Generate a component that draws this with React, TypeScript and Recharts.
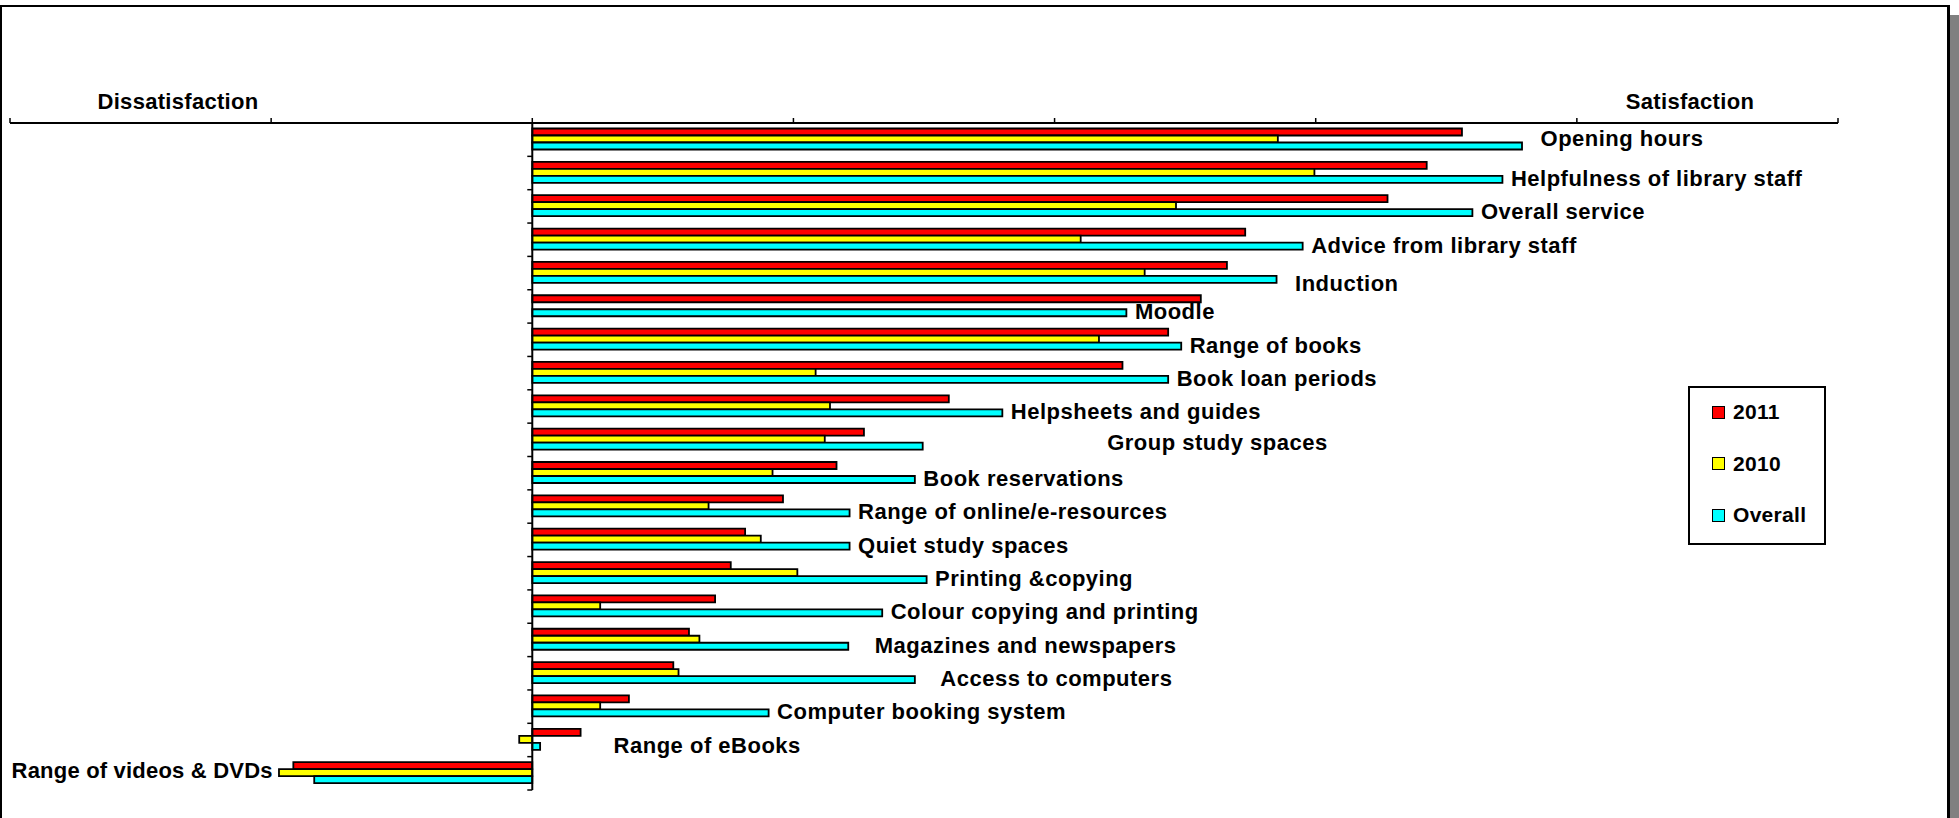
import { Bar, BarChart, LabelList, Legend, ReferenceLine, XAxis, YAxis } from "recharts";

const categories = [
  "Opening hours",
  "Helpfulness of library staff",
  "Overall service",
  "Advice from library staff",
  "Induction",
  "Moodle",
  "Range of books",
  "Book loan periods",
  "Helpsheets and guides",
  "Group study spaces",
  "Book reservations",
  "Range of online/e-resources",
  "Quiet study spaces",
  "Printing &copying",
  "Colour copying and printing",
  "Magazines and newspapers",
  "Access to computers",
  "Computer booking system",
  "Range of eBooks",
  "Range of videos & DVDs",
];

const sat2011 = [71.2, 68.5, 65.5, 54.6, 53.2, 51.2, 48.7, 45.2, 31.9, 25.4, 23.3, 19.2, 16.3, 15.2, 14.0, 12.0, 10.8, 7.4, 3.7, -18.3];
const sat2010 = [57.1, 59.9, 49.3, 42.0, 46.9, null, 43.4, 21.7, 22.8, 22.4, 18.4, 13.5, 17.5, 20.3, 5.2, 12.8, 11.2, 5.2, -1.0, -19.4];
const satOverall = [75.8, 74.3, 72.0, 59.0, 57.0, 45.5, 49.7, 48.7, 36.0, 29.9, 29.3, 24.3, 24.3, 30.2, 26.8, 24.2, 29.3, 18.1, 0.6, -16.7];

const seriesNames = ["2011", "2010", "Overall"];
const xTicks = [-40, -20, 0, 20, 40, 60, 80, 100];

const data = categories.map((name, i) => ({
  name,
  y2011: sat2011[i],
  y2010: sat2010[i],
  overall: satOverall[i],
}));

const FONT = "Arial, 'Liberation Sans', Helvetica, sans-serif";

// labels that were dragged around by hand in the original sheet
const labelNudge: Record<string, { dx: number; dy: number }> = {
  "Opening hours": { dx: 10, dy: -7 },
  Induction: { dx: 10, dy: 5 },
  "Group study spaces": { dx: 176, dy: -3 },
  "Magazines and newspapers": { dx: 18, dy: 0 },
  "Access to computers": { dx: 17, dy: 0 },
  "Range of eBooks": { dx: 65, dy: 0 },
  "Range of videos & DVDs": { dx: -33, dy: -8 },
};

function BarEndLabel(props: any) {
  const vb = props.viewBox ?? props;
  const x = Number(vb.x);
  const y = Number(vb.y);
  const w = Number(vb.width);
  const h = Number(vb.height);
  const name = String(props.value);
  const idx = props.index ?? categories.indexOf(name);
  const neg = satOverall[idx] < 0;
  const end = neg ? Math.min(x, x + w) : Math.max(x, x + w);
  const n = labelNudge[name] ?? { dx: 0, dy: 0 };
  const gap = 8.5;
  return (
    <text
      x={(neg ? end - gap : end + gap) + n.dx}
      y={y + h / 2 - 1 + n.dy}
      textAnchor={neg ? "end" : "start"}
      dominantBaseline="central"
      fontFamily={FONT}
      fontWeight="bold"
      fontSize={22}
      letterSpacing={neg ? 0.2 : 0.5}
      fill="#000"
    >
      {name}
    </text>
  );
}

function ZeroAxis(props: any) {
  const { x1, y1, x2, y2 } = props;
  const n = categories.length;
  const ticks = [];
  for (let k = 0; k <= n; k++) {
    const ty = y1 + ((y2 - y1) * k) / n;
    ticks.push(<line key={k} x1={x1 - 5} x2={x1} y1={ty} y2={ty} stroke="#000" strokeWidth={1.5} />);
  }
  return (
    <g>
      <line x1={x1} y1={y1} x2={x2} y2={y2} stroke="#000" strokeWidth={2} />
      {ticks}
    </g>
  );
}

function LegendBox(props: any) {
  const items = [...(props.payload ?? [])].sort(
    (a: any, b: any) => seriesNames.indexOf(a.value) - seriesNames.indexOf(b.value)
  );
  return (
    <div
      style={{
        width: 138,
        height: 159,
        border: "2px solid #000",
        boxSizing: "border-box",
        position: "relative",
        background: "#fff",
        fontFamily: FONT,
      }}
    >
      {items.map((it: any, i: number) => (
        <div
          key={it.value}
          style={{
            position: "absolute",
            left: 22,
            top: 24 + i * 51.5 - 12,
            height: 24,
            display: "flex",
            alignItems: "center",
          }}
        >
          <span
            style={{
              width: 13,
              height: 13,
              boxSizing: "border-box",
              border: "1.5px solid #000",
              background: it.color,
              display: "inline-block",
            }}
          />
          <span style={{ marginLeft: 8, fontSize: 21, fontWeight: "bold", color: "#000", letterSpacing: 0.3 }}>
            {it.value}
          </span>
        </div>
      ))}
    </div>
  );
}

export default function App() {
  return (
    <div
      style={{
        position: "absolute",
        left: 0,
        top: 0,
        width: 1959,
        height: 818,
        overflow: "hidden",
        background: "#fff",
      }}
    >
      {/* sheet frame with drop shadow */}
      <div
        style={{
          position: "absolute",
          left: 0,
          top: 5,
          width: 1950,
          height: 900,
          boxSizing: "border-box",
          borderTop: "2px solid #000",
          borderLeft: "2px solid #000",
          borderRight: "3px solid #000",
        }}
      />
      <div style={{ position: "absolute", left: 1950, top: 15, width: 9, height: 803, background: "#808080" }} />

      <div style={{ position: "absolute", left: 0, top: 0 }}>
        <BarChart
          width={1959}
          height={818}
          data={data}
          layout="vertical"
          margin={{ top: 113, right: 121, bottom: 28, left: 10 }}
          barCategoryGap="16.5%"
          barGap={0}
        >
          <XAxis
            type="number"
            orientation="top"
            domain={[-40, 100]}
            ticks={xTicks}
            allowDataOverflow
            height={10}
            tickFormatter={() => ""}
            tickSize={5}
            tickLine={{ stroke: "#000", strokeWidth: 1.5 }}
            axisLine={{ stroke: "#000", strokeWidth: 2 }}
          />
          <YAxis type="category" dataKey="name" hide />
          <Legend
            layout="horizontal"
            verticalAlign="middle"
            align="center"
            itemSorter={(item: any) => seriesNames.indexOf(item.value)}
            content={LegendBox}
            wrapperStyle={{ left: 1688, top: 386, width: 138, height: 159 }}
          />
          <Bar dataKey="y2011" name="2011" fill="#ff0000" stroke="#000" strokeWidth={1.8} isAnimationActive={false} />
          <Bar dataKey="y2010" name="2010" fill="#ffff00" stroke="#000" strokeWidth={1.8} isAnimationActive={false} />
          <Bar dataKey="overall" name="Overall" fill="#00ffff" stroke="#000" strokeWidth={1.8} isAnimationActive={false}>
            <LabelList dataKey="name" content={BarEndLabel} />
          </Bar>
          <ReferenceLine x={0} shape={ZeroAxis} />
        </BarChart>
      </div>

      <svg
        width={1959}
        height={818}
        style={{ position: "absolute", left: 0, top: 0, pointerEvents: "none" }}
      >
        <text x={178} y={109} textAnchor="middle" fontFamily={FONT} fontWeight="bold" fontSize={22} letterSpacing={0.3} fill="#000">
          Dissatisfaction
        </text>
        <text x={1690} y={109} textAnchor="middle" fontFamily={FONT} fontWeight="bold" fontSize={22} letterSpacing={0.3} fill="#000">
          Satisfaction
        </text>
      </svg>
    </div>
  );
}
